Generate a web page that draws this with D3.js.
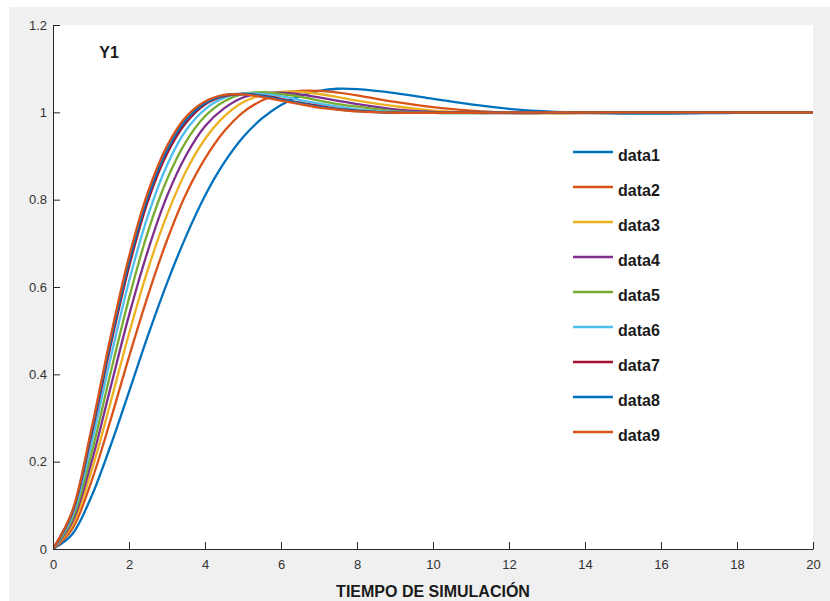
<!DOCTYPE html>
<html>
<head>
<meta charset="utf-8">
<script src="https://cdn.jsdelivr.net/npm/d3@7"></script>
<style>
  html, body { margin: 0; padding: 0; background: #ffffff; }
  svg { display: block; }
  text { font-family: "Liberation Sans", Arial, Helvetica, sans-serif; }
</style>
</head>
<body>
<svg id="chart" width="830" height="601"></svg>
<script>
// ---- data ----
const times = [0, 0.5, 1, 1.5, 2, 2.5, 3, 3.5, 4, 4.5, 5, 5.5, 6, 6.5, 7, 7.5, 8, 9, 10, 11, 12, 13, 14, 16, 18, 20];

const data1 = [0, 0.033, 0.118, 0.233, 0.360, 0.489, 0.609, 0.716, 0.809, 0.884, 0.943, 0.986, 1.017, 1.037, 1.049, 1.054, 1.053, 1.044, 1.031, 1.018, 1.008, 1.002, 0.999, 0.997, 0.999, 1.0];
const data2 = [0, 0.045, 0.152, 0.291, 0.440, 0.581, 0.707, 0.813, 0.894, 0.956, 1.000, 1.027, 1.043, 1.049, 1.049, 1.045, 1.039, 1.024, 1.012, 1.004, 0.999, 0.998, 0.998, 0.999, 1.0, 1.0];
const data3 = [0, 0.054, 0.175, 0.331, 0.493, 0.641, 0.765, 0.865, 0.939, 0.990, 1.023, 1.040, 1.047, 1.047, 1.042, 1.035, 1.027, 1.014, 1.004, 1.000, 0.998, 0.998, 0.999, 1.0, 1.0, 1.0];
const data4 = [0, 0.061, 0.195, 0.365, 0.535, 0.684, 0.808, 0.901, 0.968, 1.009, 1.034, 1.044, 1.045, 1.041, 1.034, 1.026, 1.019, 1.007, 1.001, 0.999, 0.998, 0.999, 0.999, 1.0, 1.0, 1.0];
const data5 = [0, 0.067, 0.215, 0.398, 0.574, 0.727, 0.846, 0.933, 0.991, 1.025, 1.042, 1.046, 1.042, 1.036, 1.027, 1.019, 1.013, 1.003, 0.999, 0.998, 0.999, 1.0, 1.0, 1.0, 1.0, 1.0];
const data6 = [0, 0.074, 0.237, 0.431, 0.613, 0.764, 0.879, 0.959, 1.007, 1.033, 1.043, 1.042, 1.037, 1.028, 1.020, 1.013, 1.007, 1.001, 0.999, 0.998, 0.999, 1.0, 1.0, 1.0, 1.0, 1.0];
const data7 = [0, 0.081, 0.257, 0.460, 0.646, 0.797, 0.905, 0.976, 1.018, 1.037, 1.042, 1.038, 1.031, 1.022, 1.015, 1.008, 1.004, 0.999, 0.999, 0.999, 1.0, 1.0, 1.0, 1.0, 1.0, 1.0];
const data8 = [0, 0.083, 0.263, 0.469, 0.657, 0.807, 0.914, 0.983, 1.021, 1.039, 1.042, 1.037, 1.029, 1.021, 1.013, 1.007, 1.003, 0.999, 0.999, 0.999, 1.0, 1.0, 1.0, 1.0, 1.0, 1.0];
const data9 = [0, 0.085, 0.270, 0.480, 0.669, 0.818, 0.923, 0.990, 1.025, 1.040, 1.041, 1.035, 1.027, 1.019, 1.011, 1.006, 1.002, 0.999, 0.999, 0.999, 1.0, 1.0, 1.0, 1.0, 1.0, 1.0];

const seriesNames = ["data1", "data2", "data3", "data4", "data5", "data6", "data7", "data8", "data9"];
const seriesValues = [data1, data2, data3, data4, data5, data6, data7, data8, data9];
const seriesColors = ["#0072BD", "#D95319", "#EDB120", "#7E2F8E", "#77AC30", "#4DBEEE", "#A2142F", "#0072BD", "#D95319"];

const xTicks = [0, 2, 4, 6, 8, 10, 12, 14, 16, 18, 20];
const yTicks = [0, 0.2, 0.4, 0.6, 0.8, 1, 1.2];

const titleText = "Y1";
const xLabelText = "TIEMPO DE SIMULACIÓN";

// ---- layout ----
const svg = d3.select("#chart");
const W = 830, H = 601;
const m = { left: 53, top: 25, right: 813, bottom: 549 };

// figure background
svg.append("rect").attr("x", 9).attr("y", 7).attr("width", W - 9).attr("height", H - 7).attr("fill", "#f0f0f0");
// axes background
svg.append("rect").attr("x", m.left).attr("y", m.top).attr("width", m.right - m.left).attr("height", m.bottom - m.top).attr("fill", "#ffffff");

const x = d3.scaleLinear().domain([0, 20]).range([m.left, m.right]);
const y = d3.scaleLinear().domain([0, 1.2]).range([m.bottom, m.top]);

svg.append("defs").append("clipPath").attr("id", "clip")
  .append("rect").attr("x", m.left).attr("y", m.top).attr("width", m.right - m.left).attr("height", m.bottom - m.top);

// lines
const line = d3.line()
  .x((d, i) => x(times[i]))
  .y(d => y(d))
  .curve(d3.curveCatmullRom.alpha(0.5));

const plot = svg.append("g").attr("clip-path", "url(#clip)");
seriesValues.forEach((vals, k) => {
  plot.append("path")
    .attr("d", line(vals))
    .attr("fill", "none")
    .attr("stroke", seriesColors[k])
    .attr("stroke-width", 2.3)
    .attr("stroke-linejoin", "round");
});

// axes
const axisColor = "#262626";
const xAxis = d3.axisBottom(x).tickValues(xTicks).tickSizeInner(-7).tickSizeOuter(0).tickPadding(11)
  .tickFormat(d3.format("d"));
const gx = svg.append("g").attr("transform", `translate(0,${m.bottom})`).call(xAxis);
gx.select(".domain").attr("stroke", axisColor).attr("stroke-width", 1);
gx.selectAll(".tick line").attr("stroke", axisColor);
gx.selectAll(".tick text").attr("fill", "#333333").attr("font-size", "13px")
  .attr("font-family", "'Liberation Sans', Arial, sans-serif");

const yAxis = d3.axisLeft(y).tickValues(yTicks).tickSizeInner(-7).tickSizeOuter(0).tickPadding(6)
  .tickFormat(d => d3.format("~g")(d));
const gy = svg.append("g").attr("transform", `translate(${m.left},0)`).call(yAxis);
gy.select(".domain").attr("stroke", axisColor).attr("stroke-width", 1);
gy.selectAll(".tick line").attr("stroke", axisColor);
gy.selectAll(".tick text").attr("fill", "#333333").attr("font-size", "13px")
  .attr("font-family", "'Liberation Sans', Arial, sans-serif");

// title inside axes
svg.append("text").attr("x", 109).attr("y", 57.5).attr("text-anchor", "middle")
  .attr("font-size", "16px").attr("font-weight", "bold").attr("fill", "#1a1a1a").text(titleText);

// x label
svg.append("text").attr("x", 433).attr("y", 597).attr("text-anchor", "middle")
  .attr("font-size", "16px").attr("font-weight", "bold").attr("fill", "#1a1a1a").text(xLabelText);

// legend
const lg = svg.append("g");
seriesNames.forEach((name, k) => {
  const ly = 152 + k * 35;
  lg.append("line").attr("x1", 573).attr("x2", 613).attr("y1", ly).attr("y2", ly)
    .attr("stroke", seriesColors[k]).attr("stroke-width", 2.3);
  lg.append("text").attr("x", 618).attr("y", ly + 8.5)
    .attr("font-size", "16px").attr("font-weight", "bold").attr("fill", "#1a1a1a").text(name);
});
</script>
</body>
</html>
